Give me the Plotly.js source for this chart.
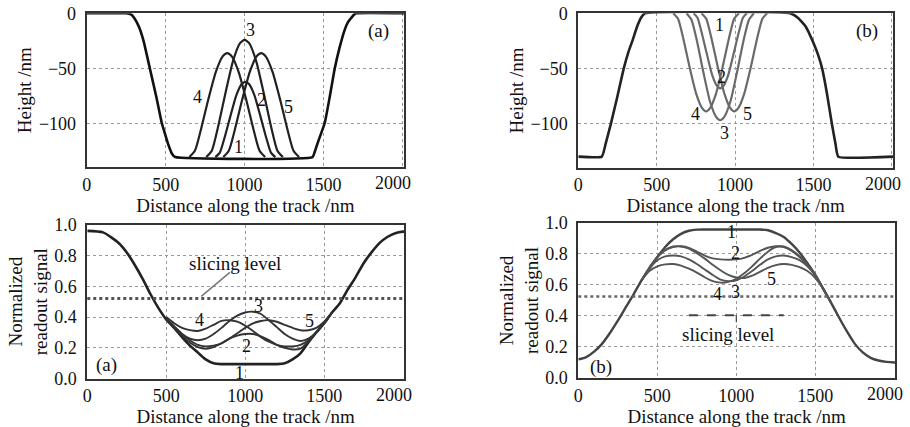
<!DOCTYPE html>
<html>
<head>
<meta charset="utf-8">
<script src="https://cdn.plot.ly/plotly-3.0.1.min.js"></script>
<style>html,body{margin:0;padding:0;background:#fff;}#chart{width:910px;height:427px;}</style>
</head>
<body>
<div id="chart"></div>
<script>
// ---------- Panel (a) top: height profile, land bumps in groove ----------
const A_x1 = [0, 250, 280, 300, 330, 360, 400, 440, 475, 500, 520, 540, 560, 1430, 1445, 1466, 1508, 1540, 1571, 1600, 1634, 1655, 1677, 1695, 1710, 2010];
const A_y1 = [0, 0, -1, -4, -12, -25, -50, -75, -99, -111, -120, -127, -130, -130, -125, -116, -99, -75, -50, -32, -15, -8, -4, -1, 0, 0];
const A_x2 = [815, 843, 872, 910, 948, 982, 1005, 1028, 1062, 1100, 1138, 1167, 1195];
const A_y2 = [-130, -126, -113, -93, -74, -64, -62, -64, -74, -93, -113, -126, -130];
const A_x3 = [757, 793, 830, 879, 927, 971, 1000, 1029, 1073, 1121, 1170, 1207, 1243];
const A_y3 = [-130, -124, -104, -72, -43, -27, -24, -27, -43, -72, -104, -124, -130];
const A_x4 = [650, 686, 722, 770, 818, 861, 890, 919, 962, 1010, 1058, 1094, 1130];
const A_y4 = [-130, -124, -106, -78, -53, -39, -36, -39, -53, -78, -106, -124, -130];
const A_x5 = [865, 901, 937, 985, 1033, 1076, 1105, 1134, 1177, 1225, 1273, 1309, 1345];
const A_y5 = [-130, -124, -106, -78, -53, -39, -36, -39, -53, -78, -106, -124, -130];

// ---------- Panel (b) top: height profile, pits in land ----------
const B_x1 = [0, 150, 175, 208, 250, 290, 320, 345, 375, 400, 425, 1350, 1400, 1450, 1500, 1530, 1555, 1585, 1617, 1640, 1658, 2007];
const B_y1 = [-130, -130, -118, -100, -75, -50, -35, -25, -12, -4, 0, 0, -4, -12, -27, -38, -50, -72, -100, -118, -130, -130];
const B_x2 = [735, 760, 786, 820, 854, 885, 905, 925, 956, 990, 1024, 1050, 1075];
const B_y2 = [0, -4, -17, -37, -56, -66, -68, -66, -56, -37, -17, -4, 0];
const B_x3 = [690, 722, 755, 797, 840, 879, 905, 931, 970, 1013, 1055, 1088, 1120];
const B_y3 = [0, -6, -24, -53, -80, -94, -97, -94, -80, -53, -24, -6, 0];
const B_x4 = [605, 636, 668, 710, 752, 790, 815, 840, 878, 920, 962, 994, 1025];
const B_y4 = [0, -5, -22, -49, -73, -86, -89, -86, -73, -49, -22, -5, 0];
const B_x5 = [785, 816, 848, 890, 932, 970, 995, 1020, 1058, 1100, 1142, 1174, 1205];
const B_y5 = [0, -5, -22, -49, -73, -86, -89, -86, -73, -49, -22, -5, 0];

// ---------- Panel (a) bottom: normalized readout signal ----------
const SA_x1 = [0, 100, 200, 250, 300, 350, 400, 450, 500, 550, 600, 650, 700, 750, 800, 850, 900, 950, 1000, 1050, 1100, 1150, 1200, 1250, 1300, 1350, 1400, 1450, 1500, 1550, 1600, 1650, 1700, 1750, 1800, 1850, 1900, 1950, 2000, 2006];
const SA_y1 = [0.96, 0.95, 0.88, 0.82, 0.74, 0.65, 0.55, 0.46, 0.385, 0.33, 0.27, 0.215, 0.17, 0.125, 0.10, 0.095, 0.095, 0.095, 0.095, 0.095, 0.095, 0.095, 0.095, 0.10, 0.125, 0.165, 0.235, 0.30, 0.36, 0.43, 0.49, 0.58, 0.66, 0.75, 0.82, 0.88, 0.92, 0.945, 0.955, 0.955];
const SA_x = [500, 550, 600, 650, 700, 750, 800, 850, 900, 950, 1000, 1050, 1100, 1150, 1200, 1250, 1300, 1350, 1400, 1450, 1500, 1550];
const SA_y2 = [0.385, 0.335, 0.28, 0.235, 0.205, 0.195, 0.205, 0.23, 0.26, 0.28, 0.29, 0.29, 0.275, 0.25, 0.22, 0.20, 0.19, 0.195, 0.24, 0.30, 0.36, 0.43];
const SA_y3 = [0.39, 0.34, 0.29, 0.26, 0.25, 0.26, 0.29, 0.33, 0.375, 0.41, 0.43, 0.435, 0.42, 0.38, 0.335, 0.29, 0.26, 0.245, 0.26, 0.30, 0.36, 0.43];
const SA_y4 = [0.40, 0.36, 0.33, 0.315, 0.31, 0.325, 0.35, 0.375, 0.38, 0.37, 0.345, 0.31, 0.27, 0.24, 0.22, 0.21, 0.21, 0.22, 0.25, 0.30, 0.36, 0.43];
const SA_y5 = [0.39, 0.34, 0.29, 0.25, 0.22, 0.21, 0.215, 0.23, 0.26, 0.295, 0.33, 0.36, 0.375, 0.38, 0.37, 0.35, 0.33, 0.315, 0.315, 0.33, 0.37, 0.43];
const SLICE_A = 0.52;

// ---------- Panel (b) bottom: normalized readout signal ----------
const SB_x1 = [0, 50, 100, 150, 200, 250, 300, 350, 400, 450, 500, 550, 600, 650, 700, 750, 800, 850, 900, 950, 1000, 1050, 1100, 1150, 1200, 1250, 1300, 1350, 1400, 1450, 1500, 1550, 1600, 1650, 1700, 1750, 1800, 1850, 1900, 1950, 2000, 2004];
const SB_y1 = [0.12, 0.135, 0.17, 0.22, 0.29, 0.37, 0.455, 0.54, 0.63, 0.71, 0.78, 0.845, 0.895, 0.93, 0.95, 0.957, 0.958, 0.958, 0.958, 0.958, 0.958, 0.958, 0.958, 0.958, 0.953, 0.935, 0.91, 0.865, 0.81, 0.74, 0.665, 0.575, 0.485, 0.39, 0.30, 0.22, 0.165, 0.13, 0.113, 0.104, 0.10, 0.10];
const SB_x = [400, 450, 500, 550, 600, 650, 700, 750, 800, 850, 900, 950, 1000, 1050, 1100, 1150, 1200, 1250, 1300, 1350, 1400, 1450, 1500, 1550, 1600];
const SB_y2 = [0.63, 0.71, 0.78, 0.825, 0.848, 0.85, 0.84, 0.815, 0.79, 0.772, 0.765, 0.763, 0.765, 0.775, 0.795, 0.82, 0.84, 0.85, 0.845, 0.82, 0.78, 0.73, 0.665, 0.575, 0.485];
const SB_y3 = [0.63, 0.705, 0.76, 0.785, 0.79, 0.785, 0.765, 0.735, 0.70, 0.665, 0.635, 0.625, 0.63, 0.655, 0.69, 0.73, 0.765, 0.785, 0.79, 0.78, 0.76, 0.72, 0.66, 0.575, 0.485];
const SB_y4 = [0.63, 0.69, 0.72, 0.733, 0.735, 0.725, 0.705, 0.68, 0.65, 0.625, 0.615, 0.62, 0.64, 0.675, 0.72, 0.77, 0.815, 0.845, 0.848, 0.825, 0.785, 0.73, 0.665, 0.575, 0.485];
const SB_y5 = [0.63, 0.71, 0.78, 0.825, 0.845, 0.848, 0.835, 0.805, 0.77, 0.73, 0.695, 0.665, 0.648, 0.645, 0.66, 0.685, 0.71, 0.728, 0.735, 0.73, 0.715, 0.69, 0.645, 0.575, 0.485];
const SLICE_B = 0.525;
const SLICE_B_MARK = [700, 1300, 0.405, 0.36];

const X_TICKS = [0, 500, 1000, 1500, 2000];
const X_TICKTEXT = ['0', '500', '1000', '1500', ''];
const X_LAST_LABEL = '2000';
const H_TICKS = [0, -50, -100];
const S_TICKS = [0, 0.2, 0.4, 0.6, 0.8, 1.0];

const FONT = "'Liberation Serif', 'DejaVu Serif', serif";
const XTITLE = 'Distance along the track /nm';

function tr(x, y, xa, ya, color, width, smooth) {
  return {x: x, y: y, xaxis: xa, yaxis: ya, type: 'scatter', mode: 'lines',
    line: {color: color, width: width, shape: 'spline', smoothing: smooth === undefined ? 0.6 : smooth},
    hoverinfo: 'skip'};
}

const data = [
  tr(A_x1, A_y1, 'x', 'y', '#111', 2.6, 0.4),
  tr(A_x2, A_y2, 'x', 'y', '#222', 2.2),
  tr(A_x3, A_y3, 'x', 'y', '#222', 2.2),
  tr(A_x4, A_y4, 'x', 'y', '#222', 2.2),
  tr(A_x5, A_y5, 'x', 'y', '#222', 2.2),

  tr(B_x1, B_y1, 'x2', 'y2', '#222', 2.6, 0.4),
  tr(B_x2, B_y2, 'x2', 'y2', '#6a6a6a', 2.2),
  tr(B_x3, B_y3, 'x2', 'y2', '#6a6a6a', 2.2),
  tr(B_x4, B_y4, 'x2', 'y2', '#6a6a6a', 2.2),
  tr(B_x5, B_y5, 'x2', 'y2', '#6a6a6a', 2.2),

  tr(SA_x1, SA_y1, 'x3', 'y3', '#222', 2.6),
  tr(SA_x, SA_y2, 'x3', 'y3', '#333', 1.9),
  tr(SA_x, SA_y3, 'x3', 'y3', '#333', 1.9),
  tr(SA_x, SA_y4, 'x3', 'y3', '#333', 1.9),
  tr(SA_x, SA_y5, 'x3', 'y3', '#333', 1.9),

  tr(SB_x1, SB_y1, 'x4', 'y4', '#444', 2.4),
  tr(SB_x, SB_y2, 'x4', 'y4', '#555', 1.9),
  tr(SB_x, SB_y3, 'x4', 'y4', '#555', 1.9),
  tr(SB_x, SB_y4, 'x4', 'y4', '#555', 1.9),
  tr(SB_x, SB_y5, 'x4', 'y4', '#555', 1.9)
];

function xax(domain, range, anchor) {
  return {domain: domain, range: range, anchor: anchor,
    tickmode: 'array', tickvals: X_TICKS, ticktext: X_TICKTEXT,
    showline: true, mirror: true, linecolor: '#333', linewidth: 2,
    ticks: '', ticklabelstandoff: 0,
    showgrid: true, gridcolor: '#9a9a9a', griddash: 'dot', gridwidth: 1,
    zeroline: false, tickfont: {family: FONT, size: 18, color: '#111'},
    title: {text: XTITLE, font: {family: FONT, size: 19, color: '#111'}, standoff: 0}};
}
function yax(domain, range, anchor, ticks, fmt, title) {
  return {domain: domain, range: range, anchor: anchor,
    tickmode: 'array', tickvals: ticks, tickformat: fmt,
    showline: true, mirror: true, linecolor: '#333', linewidth: 2,
    ticks: '', ticklabelstandoff: 5,
    showgrid: true, gridcolor: '#9a9a9a', griddash: 'dot', gridwidth: 1,
    zeroline: false, tickfont: {family: FONT, size: 18, color: '#111'},
    title: {text: title, font: {family: FONT, size: 19, color: '#111'}, standoff: 2}};
}

function lab(text, x, y, xr, yr, size) {
  return {text: text, x: x, y: y, xref: xr, yref: yr, showarrow: false,
    font: {family: FONT, size: size || 18, color: '#111'}};
}
function lastTick(xr, yr) {
  return {text: X_LAST_LABEL, x: 1942, y: -0.025, xref: xr, yref: yr, yanchor: 'top',
    showarrow: false, font: {family: FONT, size: 18, color: '#111'}};
}

const annotations = [
  lab('3', 1035, -15, 'x', 'y'), lab('4', 702, -76, 'x', 'y'), lab('2', 1107, -78, 'x', 'y'),
  lab('5', 1276, -85, 'x', 'y'), lab('1', 962, -121, 'x', 'y'), lab('(a)', 1846, -16, 'x', 'y', 19),

  lab('1', 900, -11, 'x2', 'y2'), lab('2', 915, -58, 'x2', 'y2'), lab('4', 749, -91, 'x2', 'y2'),
  lab('3', 932, -109, 'x2', 'y2'), lab('5', 1081, -91, 'x2', 'y2'), lab('(b)', 1840, -16, 'x2', 'y2', 19),

  lab('slicing level', 935, 0.75, 'x3', 'y3', 19),
  lab('4', 713, 0.383, 'x3', 'y3'), lab('3', 1082, 0.47, 'x3', 'y3'), lab('5', 1409, 0.372, 'x3', 'y3'),
  lab('2', 1008, 0.21, 'x3', 'y3'), lab('1', 966, 0.035, 'x3', 'y3'), lab('(a)', 122, 0.09, 'x3', 'y3', 19),

  lab('slicing level', 950, 0.28, 'x4', 'y4', 19),
  lab('1', 972, 0.94, 'x4', 'y4'), lab('2', 993, 0.808, 'x4', 'y4'), lab('5', 1225, 0.64, 'x4', 'y4'),
  lab('4', 881, 0.544, 'x4', 'y4'), lab('3', 993, 0.555, 'x4', 'y4'), lab('(b)', 143, 0.07, 'x4', 'y4', 19),

  lastTick('x', 'y domain'), lastTick('x2', 'y2 domain'), lastTick('x3', 'y3 domain'), lastTick('x4', 'y4 domain')
];

const shapes = [
  {type: 'line', xref: 'x3 domain', yref: 'y3', x0: 0, x1: 1, y0: SLICE_A, y1: SLICE_A,
   line: {color: '#555', width: 3, dash: 'dot'}},
  {type: 'line', xref: 'x3', yref: 'y3', x0: 903, y0: 0.69, x1: 722, y1: 0.535,
   line: {color: '#777', width: 1.5}},
  {type: 'line', xref: 'x4 domain', yref: 'y4', x0: 0, x1: 1, y0: SLICE_B, y1: SLICE_B,
   line: {color: '#666', width: 2.5, dash: 'dot'}},
  {type: 'line', xref: 'x4', yref: 'y4', x0: SLICE_B_MARK[0], x1: SLICE_B_MARK[1], y0: SLICE_B_MARK[2], y1: SLICE_B_MARK[2],
   line: {color: '#444', width: 2, dash: 'dash'}},
  {type: 'line', xref: 'x4', yref: 'y4', x0: 1000, x1: 1000, y0: SLICE_B_MARK[2], y1: SLICE_B_MARK[3],
   line: {color: '#444', width: 1.2}}
];

const layout = {
  width: 910, height: 427,
  margin: {l: 0, r: 0, t: 0, b: 0},
  paper_bgcolor: '#fff', plot_bgcolor: '#fff',
  showlegend: false,
  font: {family: FONT, size: 18, color: '#111'},
  xaxis: xax([0.0953, 0.4440], [0, 2010], 'y'),
  yaxis: yax([0.6089, 0.9689], [-139, 0], 'x', H_TICKS, 'd', 'Height /nm'),
  xaxis2: xax([0.6355, 0.9813], [0, 2007], 'y2'),
  yaxis2: yax([0.6073, 0.9689], [-140, 0], 'x2', H_TICKS, 'd', 'Height /nm'),
  xaxis3: xax([0.0959, 0.4440], [0, 2006], 'y3'),
  yaxis3: yax([0.1131, 0.4738], [0, 1], 'x3', S_TICKS, '.1f', 'Normalized<br>readout signal'),
  xaxis4: xax([0.6355, 0.9835], [0, 2004], 'y4'),
  yaxis4: yax([0.1148, 0.4778], [0, 1], 'x4', S_TICKS, '.1f', 'Normalized<br>readout signal'),
  annotations: annotations,
  shapes: shapes
};

Plotly.newPlot('chart', data, layout, {displayModeBar: false, staticPlot: true});
</script>
</body>
</html>
